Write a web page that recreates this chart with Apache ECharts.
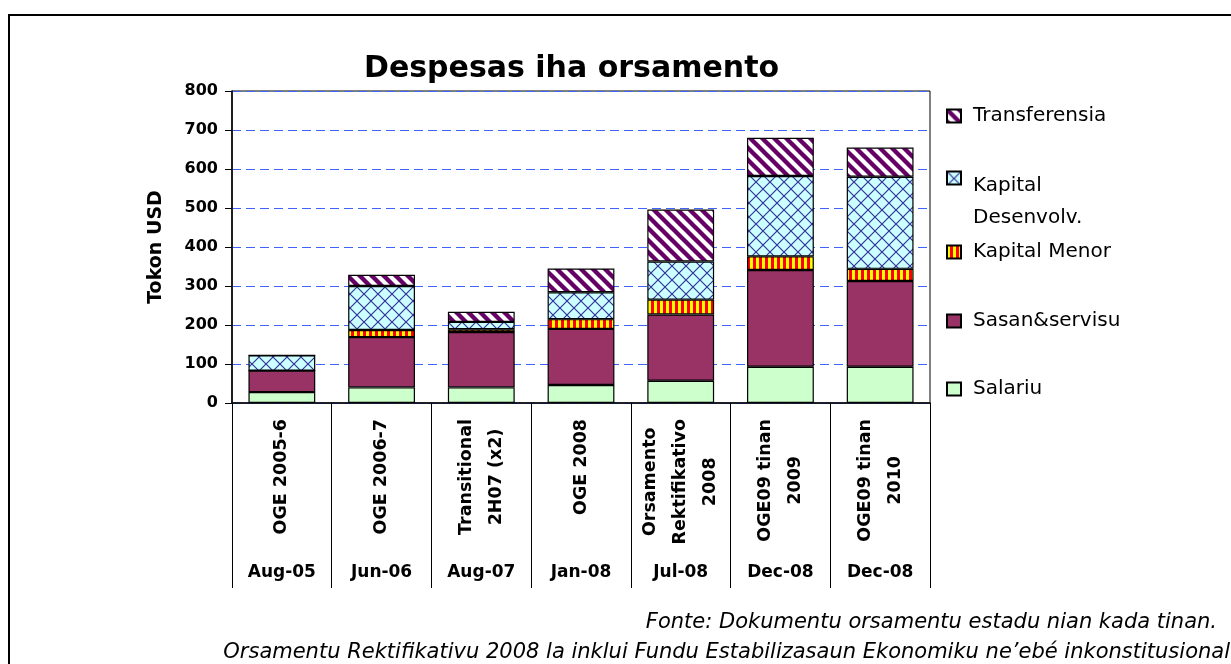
<!DOCTYPE html>
<html>
<head>
<meta charset="utf-8">
<script src="https://cdn.jsdelivr.net/npm/echarts@6/dist/echarts.min.js"></script>
<style>
  html, body { margin: 0; padding: 0; background: #fff; }
  #chart { width: 1231px; height: 664px; }
</style>
</head>
<body>
<div id="chart"></div>
<script>
// datu sira
var categories = ['OGE 2005-6', 'OGE 2006-7', 'Transitional\n2H07 (x2)', 'OGE 2008',
  'Orsamento\nRektifikativo\n2008', 'OGE09 tinan\n2009', 'OGE09 tinan\n2010'];
var dates = ['Aug-05', 'Jun-06', 'Aug-07', 'Jan-08', 'Jul-08', 'Dec-08', 'Dec-08'];
var yTicks = [0, 100, 200, 300, 400, 500, 600, 700, 800];

var salariu = [28, 40, 40, 46, 57, 93, 93];
var sasan = [55, 129, 142, 144, 170, 248, 220];
var kapitalMenor = [0, 18, 7, 25, 38, 35, 31];
var kapitalDesenv = [39, 113, 19, 69, 98, 206, 236];
var transferensia = [0, 29, 26, 61, 133, 98, 75];

var FONT = 'DejaVu Sans';

// pattern sira hanesan Excel
function makePattern(size, draw) {
  var c = document.createElement('canvas');
  c.width = size; c.height = size;
  draw(c.getContext('2d'), size);
  return { image: c, repeat: 'repeat' };
}
var stripePattern = makePattern(12, function (ctx, s) {
  ctx.fillStyle = '#fff';
  ctx.fillRect(0, 0, s, s);
  ctx.strokeStyle = '#660066';
  ctx.lineWidth = 4.4;
  for (var k = -1; k <= 1; k++) {
    ctx.beginPath();
    ctx.moveTo(k * s - 2, -2);
    ctx.lineTo(k * s + s + 2, s + 2);
    ctx.stroke();
  }
});
var crossPattern = makePattern(14, function (ctx, s) {
  ctx.fillStyle = '#ccffff';
  ctx.fillRect(0, 0, s, s);
  ctx.strokeStyle = '#333399';
  ctx.lineWidth = 1.2;
  ctx.beginPath();
  ctx.moveTo(0, 0); ctx.lineTo(s, s);
  ctx.moveTo(s, 0); ctx.lineTo(0, s);
  ctx.stroke();
});
var vertPattern = makePattern(6, function (ctx, s) {
  ctx.fillStyle = '#ffff00';
  ctx.fillRect(0, 0, s, s);
  ctx.fillStyle = '#ff0000';
  ctx.fillRect(3, 0, 3, s);
});

function bar(name, data, color) {
  return {
    name: name,
    type: 'bar',
    stack: 'total',
    barWidth: '67%',
    data: data,
    itemStyle: { color: color, borderColor: '#000', borderWidth: 1.2 },
    emphasis: { disabled: true }
  };
}

var series = [
  bar('Salariu', salariu, '#ccffcc'),
  bar('Sasan&servisu', sasan, '#993366'),
  bar('Kapital Menor', kapitalMenor, vertPattern),
  bar('Kapital Desenvolv.', kapitalDesenv, crossPattern),
  bar('Transferensia', transferensia, stripePattern)
];

// legenda: ida-idak iha nia fatin rasik
var legendTops = { 'Transferensia': 101, 'Kapital Desenvolv.': 136, 'Kapital Menor': 237, 'Sasan&servisu': 306, 'Salariu': 374 };
var legends = Object.keys(legendTops).map(function (name) {
  var two = name === 'Kapital Desenvolv.';
  return {
    data: [{ name: name, icon: 'rect' }],
    left: 941,
    top: legendTops[name],
    orient: 'vertical',
    itemWidth: 14,
    itemHeight: 13,
    selectedMode: false,
    formatter: function (n) {
      return two ? '{e| }\n{a|Kapital}\n{a|Desenvolv.}' : '{a|' + n + '}';
    },
    textStyle: {
      padding: [0, 0, 0, 7],
      rich: {
        a: { fontFamily: FONT, fontSize: 20, color: '#000', lineHeight: 32 },
        e: { fontSize: 10, lineHeight: 48 }
      }
    }
  };
});

var chart = echarts.init(document.getElementById('chart'));
chart.setOption({
  animation: false,
  title: {
    text: 'Despesas iha orsamento',
    left: 359,
    top: 49,
    textStyle: { fontFamily: FONT, fontSize: 30, fontWeight: 'bold', color: '#000' }
  },
  legend: legends,
  grid: {
    left: 232, right: 301, top: 91, bottom: 261,
    show: true, borderColor: '#000', borderWidth: 1, backgroundColor: 'transparent'
  },
  xAxis: [{
    type: 'category',
    data: categories,
    axisLine: { lineStyle: { color: '#000', width: 1.5 } },
    axisTick: { show: true, length: 185, lineStyle: { color: '#000', width: 1 } },
    axisLabel: {
      interval: 0,
      rotate: 90,
      margin: 16,
      formatter: function (v) {
        return v.split('\n').map(function (s) { return '{c|' + s + '}'; }).join('\n');
      },
      rich: {
        c: { fontFamily: FONT, fontSize: 17.5, fontWeight: 'bold', color: '#000', lineHeight: 30, align: 'center' }
      }
    }
  }, {
    type: 'category',
    data: categories,
    position: 'bottom',
    offset: 152,
    axisLine: { show: false },
    axisTick: { show: false },
    splitLine: { show: false },
    axisLabel: {
      interval: 0,
      margin: 9,
      formatter: function (v, i) { return dates[i]; },
      fontFamily: FONT, fontSize: 17, fontWeight: 'bold', color: '#000'
    }
  }],
  yAxis: {
    type: 'value',
    min: yTicks[0],
    max: yTicks[yTicks.length - 1],
    interval: 100,
    name: 'Tokon USD',
    nameLocation: 'middle',
    nameRotate: 90,
    nameGap: 66,
    nameTextStyle: { fontFamily: FONT, fontSize: 19, fontWeight: 'bold', color: '#000' },
    axisLine: { show: true, lineStyle: { color: '#000', width: 1.5 } },
    axisTick: { show: true, length: 7, lineStyle: { color: '#000' } },
    axisLabel: { margin: 14, fontFamily: FONT, fontSize: 16, fontWeight: 'bold', color: '#000' },
    splitLine: { show: true, lineStyle: { color: '#3f63ff', type: [9, 5], width: 1.2 } }
  },
  series: series,
  graphic: [
    {
      type: 'rect',
      shape: { x: 9, y: 15, width: 1240, height: 700 },
      style: { fill: 'none', stroke: '#000', lineWidth: 2 },
      silent: true
    },
    {
      type: 'text',
      x: 1217, y: 623,
      style: {
        text: 'Fonte: Dokumentu orsamentu estadu nian kada tinan.',
        fontFamily: FONT, fontSize: 21, fontStyle: 'italic', fill: '#000',
        align: 'right', verticalAlign: 'middle'
      }
    },
    {
      type: 'text',
      x: 1230, y: 653,
      style: {
        text: 'Orsamentu Rektifikativu 2008 la inklui Fundu Estabilizasaun Ekonomiku ne\u2019ebé inkonstitusional',
        fontFamily: FONT, fontSize: 21, fontStyle: 'italic', fill: '#000',
        align: 'right', verticalAlign: 'middle'
      }
    }
  ]
});
</script>
</body>
</html>
